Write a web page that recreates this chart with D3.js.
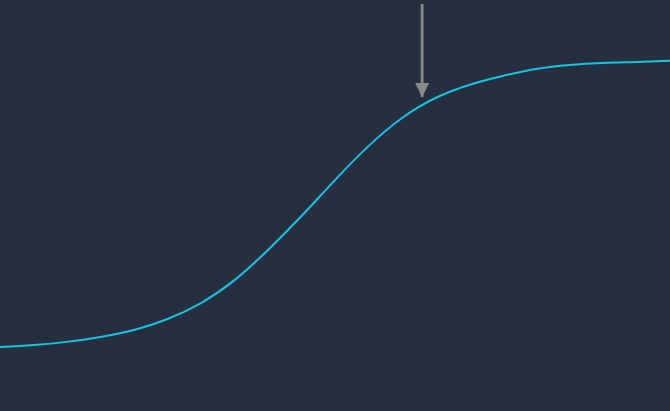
<!DOCTYPE html>
<html>
<head>
<meta charset="utf-8">
<script src="https://cdn.jsdelivr.net/npm/d3@7"></script>
<style>
  html, body { margin: 0; padding: 0; background: #252f3f; }
  svg { display: block; }
</style>
</head>
<body>
<script>
// sigmoid curve (x steps 0..20, y in percent)
var steps = [0,1,2,3,4,5,6,7,8,9,10,11,12,13,14,15,16,17,18,19,20];
var values = [1.0,1.7,2.8,4.5,6.9,10.7,16.2,24.1,34.5,46.2,58.6,70.3,80.0,86.9,91.4,94.5,96.9,98.3,99.0,99.3,99.7];
// where the arrow points (step index)
var markerStep = [12.6];

var w = 670;
var h = 411;

var svg = d3.select("body")
  .append("svg")
  .attr("width", w)
  .attr("height", h);

var x = d3.scaleLinear().domain([0, 20]).range([0, w]);
var y = d3.scaleLinear().domain([0, 100]).range([350, 60]);

var line = d3.line()
  .x(function(d, i){ return x(steps[i]); })
  .y(function(d){ return y(d); })
  .curve(d3.curveNatural);

svg.append("path")
  .datum(values)
  .attr("d", line)
  .attr("fill", "none")
  .attr("stroke", "#18c3e2")
  .attr("stroke-width", 2);

svg.append("defs").append("marker")
  .attr("id", "head")
  .attr("viewBox", "0 0 10 10")
  .attr("refX", 10)
  .attr("refY", 5)
  .attr("markerWidth", 5)
  .attr("markerHeight", 5)
  .attr("markerUnits", "strokeWidth")
  .attr("orient", "auto")
  .append("path")
  .attr("d", "M0,0 L10,5 L0,10 Z")
  .attr("fill", "#8a8a8a");

svg.selectAll("line.arrow")
  .data(markerStep)
  .enter()
  .append("line")
  .attr("class", "arrow")
  .attr("x1", function(d){ return x(d); })
  .attr("x2", function(d){ return x(d); })
  .attr("y1", 4)
  .attr("y2", 97)
  .attr("stroke", "#8a8a8a")
  .attr("stroke-width", 2.8)
  .attr("marker-end", "url(#head)");
</script>
</body>
</html>
